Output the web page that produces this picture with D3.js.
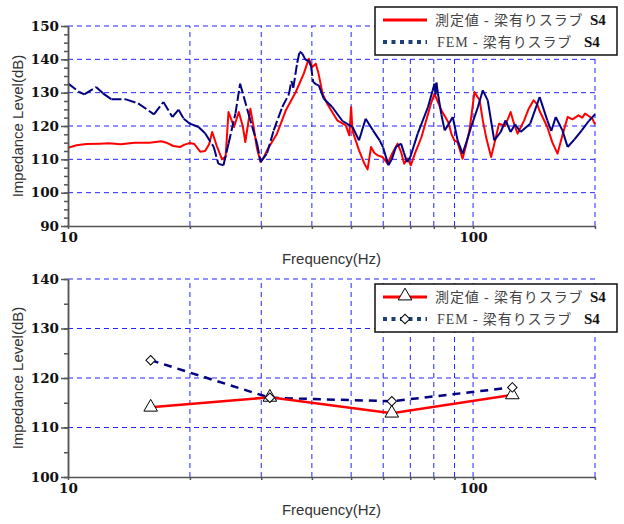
<!DOCTYPE html>
<html>
<head>
<meta charset="utf-8">
<script src="https://cdn.jsdelivr.net/npm/d3@7"></script>
<style>
  body { margin: 0; background: #fff; }
</style>
</head>
<body>
<div id="chart"></div>
<script>
// ---- data ----
const seriesNames = ["測定値 - 梁有りスラブ", "FEM - 梁有りスラブ"]
const seriesTag = "S4"

// upper chart: narrow band spectrum
const freqMeasured = [10, 10.5, 11.1, 12, 12.6, 13.5, 14.6, 15.9, 17, 17.5, 18.2, 18.9, 19.4, 20, 20.5, 21.2, 21.8, 22.3, 22.7, 23.3,
  24, 24.5, 24.9, 25.3, 25.7, 26.4, 27, 27.4, 28.2, 28.7, 29.3, 29.9, 30.4, 31, 32, 32.8, 34.5, 36.5, 38.2, 39.3,
  40.1, 40.9, 41.5, 42.5, 43.7, 46.2, 48.5, 49.5, 50, 50.4, 52.3, 54, 54.9, 56, 57, 58.1, 59.8, 61.5, 63, 65.1,
  66.5, 67.6, 69, 70.2, 72, 74.6, 78.7, 80.3, 83.5, 86.8, 88.5, 89.9, 91.5, 94.2, 96, 98, 100.8, 103.8, 105.7, 108,
  110.8, 113, 115.9, 120, 123.8, 126, 128.8, 133.7, 137, 141.1, 144, 146, 152.5, 157, 161.6, 166, 171.2, 176, 182, 186,
  189, 193, 197, 200]
const levelMeasured = [113.5, 114.2, 114.6, 114.7, 114.8, 114.5, 115.0, 115.0, 115.4, 115.0, 114.0, 113.7, 114.4, 114.9, 114.6, 112.3, 112.5, 114.5, 118.2, 114.0,
  110.0, 110.8, 124.2, 122.0, 119.7, 124.2, 120.0, 115.2, 125.2, 120.0, 113.0, 109.2, 110.5, 112.7, 115.5, 117.7, 124.7, 130.2, 135.7, 140.2,
  137.7, 138.7, 136.0, 129.7, 126.5, 121.7, 120.2, 117.2, 125.7, 118.5, 112.7, 108.5, 107.0, 113.7, 112.0, 111.2, 110.7, 108.7, 111.5, 114.7,
  112.0, 108.7, 110.2, 108.2, 112.0, 116.7, 126.7, 129.7, 124.7, 121.2, 117.5, 115.7, 115.2, 110.2, 114.0, 118.7, 130.2, 127.7, 121.7, 116.0,
  110.7, 115.0, 120.7, 120.0, 124.2, 121.0, 117.7, 121.7, 125.0, 127.7, 126.5, 124.5, 119.7, 115.0, 111.7, 117.0, 122.7, 122.0, 123.2, 122.5,
  123.7, 123.0, 122.2, 120.5]

const freqFem = [10, 10.66, 10.97, 11.73, 12.2, 12.8, 13.9, 14.9, 16.3, 17.2, 18.1, 18.75, 19.3, 20, 21, 21.8, 22.9, 23.5, 24.2, 24.9,
  25.9, 26.6, 27.9, 29.3, 29.9, 31, 32.2, 33.8, 35.1, 35.6, 36, 36.8, 37.3, 37.9, 38.5, 39.3, 39.8, 40.3, 41, 41.6,
  42.8, 44.9, 47.6, 50.4, 52.3, 54.3, 56.6, 58.8, 60, 61.8, 63, 64.5, 66.4, 67.5, 68.7, 70, 73, 77.4, 79.5, 80.3,
  80.8, 81.2, 81.9, 83.5, 85.1, 87, 89.1, 91.6, 94.2, 96.5, 98.9, 102.8, 105.7, 108.7, 112.8, 117, 120.3, 123.8, 127, 131,
  138.4, 146, 152.5, 156, 160, 166.2, 171.2, 178, 185.5, 193, 200]
const levelFem = [132.8, 130.2, 129.5, 131.7, 129.8, 128.0, 128.0, 126.8, 123.5, 127.2, 122.7, 124.9, 122.2, 120.7, 119.7, 117.8, 113.7, 108.7, 108.2, 114.7,
  123.7, 132.7, 123.7, 114.7, 109.2, 111.8, 118.7, 125.7, 129.5, 133.5, 131.5, 139.0, 142.3, 141.7, 140.0, 139.5, 138.0, 133.2, 132.5, 132.2,
  128.2, 125.7, 121.5, 119.7, 115.7, 122.2, 118.7, 115.7, 113.5, 108.2, 110.0, 113.7, 114.7, 112.0, 109.2, 110.7, 117.7, 125.7, 130.7, 132.7,
  129.5, 133.0, 129.7, 123.5, 118.7, 120.5, 122.7, 115.7, 111.7, 115.5, 119.7, 125.7, 130.7, 127.7, 115.7, 118.2, 121.7, 118.2, 120.5, 118.2,
  120.7, 128.7, 121.7, 118.5, 122.7, 118.7, 113.7, 116.0, 118.7, 121.5, 123.5]

// lower chart: octave band values
const bandFreq = [16, 31.5, 63, 125]
const bandMeasured = [114.1, 116.1, 112.9, 116.6]
const bandFem = [123.6, 116.0, 115.3, 118.1]

// axes
const xGridValues = [20, 30, 40, 50, 60, 70, 80, 90, 100, 200]
const xTickValues = [10, 20, 30, 40, 50, 60, 70, 80, 90, 100, 200]
const xTickLabels = [10, 100]
const yTopTicks = [90, 100, 110, 120, 130, 140, 150]
const yBotTicks = [100, 110, 120, 130, 140]

// ---- layout ----
const red = "#ff0000"
const navy = "#000080"
const gridBlue = "#2424ff"
const axisGray = "#555"

const svg = d3.select("#chart")
  .append("svg")
  .attr("width", 624)
  .attr("height", 524)

const x = d3.scaleLog().domain([10, 200]).range([68, 595])
const yTop = d3.scaleLinear().domain([90, 150]).range([226, 26])
const yBot = d3.scaleLinear().domain([100, 140]).range([477, 279])

const drawFrame = (y, majors) => {
  const g = svg.append("g")
  const [yb, yt] = y.range()

  // dashed grid
  g.selectAll(".vgrid").data(xGridValues).join("line")
    .attr("x1", d => x(d)).attr("x2", d => x(d))
    .attr("y1", yb).attr("y2", yt)
    .attr("stroke", gridBlue).attr("stroke-dasharray", "5,4")
  g.selectAll(".hgrid").data(majors.slice(1)).join("line")
    .attr("x1", x.range()[0]).attr("x2", x.range()[1])
    .attr("y1", d => y(d)).attr("y2", d => y(d))
    .attr("stroke", gridBlue).attr("stroke-dasharray", "5,4")
  return g
}

const drawAxes = (y, majors, minorStep) => {
  const g = svg.append("g")
  const [lo, hi] = y.domain()
  const minors = d3.range(lo, hi + 0.001, minorStep)

  g.append("g")
    .attr("transform", `translate(${x.range()[0]},0)`)
    .call(d3.axisLeft(y).tickValues(minors).tickSize(4).tickSizeOuter(0).tickFormat(""))
  g.append("g")
    .attr("transform", `translate(${x.range()[0]},0)`)
    .call(d3.axisLeft(y).tickValues(majors).tickSize(7).tickSizeOuter(0).tickPadding(2))
  g.append("g")
    .attr("transform", `translate(0,${y.range()[0]})`)
    .call(d3.axisBottom(x).tickValues(xTickValues).tickSize(3).tickSizeOuter(0).tickPadding(3)
      .tickFormat(d => xTickLabels.includes(d) ? d : ""))

  g.selectAll("path, line").attr("stroke", axisGray).attr("stroke-width", 1.5)
  g.selectAll("text")
    .attr("fill", "#111")
    .style("font-family", "'DejaVu Serif', serif")
    .style("font-weight", "bold")
    .style("font-size", "13.5px")

  // axis titles
  const yMid = (y.range()[0] + y.range()[1]) / 2
  g.append("text")
    .attr("transform", `translate(23,${yMid}) rotate(-90)`)
    .attr("text-anchor", "middle")
    .attr("fill", "#333")
    .style("font-family", "'Liberation Sans', Arial, sans-serif")
    .style("font-size", "15px")
    .text("Impedance Level(dB)")
  g.append("text")
    .attr("x", (x.range()[0] + x.range()[1]) / 2)
    .attr("y", y.range()[0] + 38)
    .attr("text-anchor", "middle")
    .attr("fill", "#333")
    .style("font-family", "'Liberation Sans', Arial, sans-serif")
    .style("font-size", "15px")
    .text("Frequency(Hz)")
}

const drawLegend = (top, withMarkers) => {
  const lg = svg.append("g").attr("transform", `translate(375,${top})`)
  lg.append("rect")
    .attr("width", 242).attr("height", 48)
    .attr("fill", "#fff").attr("stroke", "#111").attr("stroke-width", 1.5)

  const rows = [13, 35]
  // red solid sample
  lg.append("line").attr("x1", 8).attr("x2", 52).attr("y1", rows[0]).attr("y2", rows[0])
    .attr("stroke", red).attr("stroke-width", 3)
  // navy dotted sample
  lg.append("line").attr("x1", 8).attr("x2", 52).attr("y1", rows[1]).attr("y2", rows[1])
    .attr("stroke", "#1e3f7a").attr("stroke-width", 4).attr("stroke-dasharray", "4,4.5")

  if (withMarkers) {
    lg.append("path")
      .attr("d", d3.symbol(d3.symbolTriangle, 80)())
      .attr("transform", `translate(30,${rows[0] - 1})`)
      .attr("fill", "#fff").attr("stroke", "#000")
    lg.append("path")
      .attr("d", d3.symbol(d3.symbolSquare, 45)())
      .attr("transform", `translate(30,${rows[1]}) rotate(45)`)
      .attr("fill", "#fff").attr("stroke", "#000")
  }

  const tagX = [215, 209]
  const nameX = [60, 62]
  seriesNames.forEach((name, i) => {
    lg.append("text")
      .attr("x", nameX[i]).attr("y", rows[i] + 5)
      .attr("fill", "#444")
      .style("font-family", "'Liberation Serif', 'Noto Sans CJK JP', serif")
      .style("font-size", "14px")
      .style("letter-spacing", "0.9px")
      .text(name)
    lg.append("text")
      .attr("x", tagX[i]).attr("y", rows[i] + 5)
      .attr("fill", "#111")
      .style("font-family", "'Liberation Serif', serif")
      .style("font-weight", "bold")
      .style("font-size", "15px")
      .text(seriesTag)
  })
}

// ---- upper chart ----
drawFrame(yTop, yTopTicks)
const gTop = svg.append("g")

const lineTop = d3.line().x(d => x(d[0])).y(d => yTop(d[1]))
const measuredPts = freqMeasured.map((f, i) => [f, levelMeasured[i]])
const femPts = freqFem.map((f, i) => [f, levelFem[i]])

gTop.append("path")
  .attr("d", lineTop(measuredPts))
  .attr("fill", "none").attr("stroke", red).attr("stroke-width", 2)
  .attr("stroke-linejoin", "round")

// FEM drawn segment by segment so that the dash pattern restarts at each point
gTop.selectAll(".femseg").data(d3.pairs(femPts)).join("line")
  .attr("x1", d => x(d[0][0])).attr("y1", d => yTop(d[0][1]))
  .attr("x2", d => x(d[1][0])).attr("y2", d => yTop(d[1][1]))
  .attr("stroke", navy).attr("stroke-width", 2)
  .attr("stroke-dasharray", d => d[0][0] < 40 ? "10,3" : null)

drawAxes(yTop, yTopTicks, 2.5)
drawLegend(7, false)

// ---- lower chart ----
drawFrame(yBot, yBotTicks)
const gBot = svg.append("g")
const lineBot = d3.line().x(d => x(d[0])).y(d => yBot(d[1]))

gBot.append("path")
  .attr("d", lineBot(bandFreq.map((f, i) => [f, bandFem[i]])))
  .attr("fill", "none").attr("stroke", navy).attr("stroke-width", 2.5)
  .attr("stroke-dasharray", "8,6")
gBot.append("path")
  .attr("d", lineBot(bandFreq.map((f, i) => [f, bandMeasured[i]])))
  .attr("fill", "none").attr("stroke", red).attr("stroke-width", 2.5)

gBot.selectAll(".tri").data(bandFreq).join("path")
  .attr("d", d3.symbol(d3.symbolTriangle, 80)())
  .attr("transform", (d, i) => `translate(${x(d)},${yBot(bandMeasured[i])})`)
  .attr("fill", "#fff").attr("stroke", "#000")
gBot.selectAll(".dia").data(bandFreq).join("path")
  .attr("d", d3.symbol(d3.symbolSquare, 45)())
  .attr("transform", (d, i) => `translate(${x(d)},${yBot(bandFem[i])}) rotate(45)`)
  .attr("fill", "#fff").attr("stroke", "#000")

drawAxes(yBot, yBotTicks, 5)
drawLegend(284, true)
</script>
</body>
</html>
